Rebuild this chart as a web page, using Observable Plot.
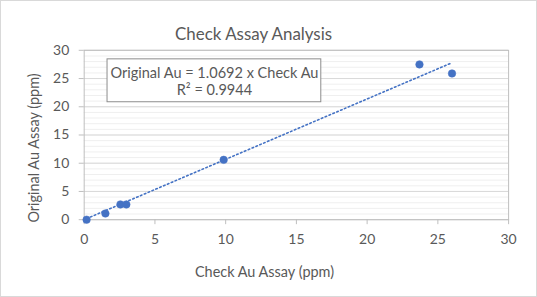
<!DOCTYPE html>
<html><head><meta charset="utf-8">
<script src="https://cdn.jsdelivr.net/npm/d3@7"></script>
<script src="https://cdn.jsdelivr.net/npm/@observablehq/plot@0.6"></script>
<style>
body{margin:0;background:#fff;}
#chart{width:537px;height:297px;box-sizing:border-box;border:1px solid #d9d9d9;position:relative;}
svg{position:absolute;left:-1px;top:-1px;}
</style>
</head><body><div id="chart"></div>
<script>
const checkAu    = [0.17, 1.5, 2.56, 2.98, 9.86, 23.7, 26.0];
const originalAu = [0.0, 1.1, 2.7, 2.7, 10.6, 27.5, 25.9];
const slope = 1.0692;
const rSquared = 0.9944;
const xTicks = [0, 5, 10, 15, 20, 25, 30];
const yTicks = [0, 5, 10, 15, 20, 25, 30];
const minorY = d3.range(0, 31, 1);
const title = "Check Assay Analysis";
const xLabel = "Check Au Assay (ppm)";
const yLabel = "Original Au Assay (ppm)";
const eqLines = [`Original Au = ${slope} x Check Au`, `R² = ${rSquared}`];
const eqBox = {x1: 1.65, x2: 16.76, y1: 20.8, y2: 28.4};

const points = checkAu.map((x, i) => ({x, y: originalAu[i]}));
const xmin = d3.min(checkAu), xmax = d3.max(checkAu);
const trend = [{x: xmin, y: slope * xmin}, {x: xmax, y: slope * xmax}];
const blue = "#4472c4";
const font = "Lato, 'Noto Sans', sans-serif";

const plot = Plot.plot({
  width: 537, height: 297,
  marginLeft: 84, marginRight: 27, marginTop: 50, marginBottom: 77,
  style: {fontFamily: font, fontSize: "14px", color: "#595959", background: "transparent"},
  x: {domain: [0, 30], ticks: xTicks, label: null},
  y: {domain: [0, 30], ticks: yTicks, label: null},
  marks: [
    Plot.ruleY(minorY, {stroke: "#efefef", strokeWidth: 1}),
    Plot.ruleY(yTicks, {stroke: "#d9d9d9", strokeWidth: 1}),
    Plot.frame({stroke: "#bfbfbf"}),
    Plot.axisX({ticks: xTicks, tickSize: 5, tickPadding: 9, stroke: "#bfbfbf", fill: "#595959", fontSize: 14, label: null}),
    Plot.axisY({ticks: yTicks, tickSize: 5, tickPadding: 10, stroke: "#bfbfbf", fill: "#595959", fontSize: 14, label: null}),
    Plot.line(trend, {x: "x", y: "y", stroke: blue, strokeWidth: 1.6, strokeDasharray: "1.6 2.6", strokeLinecap: "round"}),
    Plot.dot(points, {x: "x", y: "y", r: 3.8, fill: blue, stroke: blue, strokeWidth: 0.5}),
    Plot.rect([eqBox], {x1: "x1", x2: "x2", y1: "y1", y2: "y2", fill: "white", stroke: "#8c8c8c", strokeWidth: 1}),
    Plot.text([eqLines.join("\n")], {x: (eqBox.x1 + eqBox.x2) / 2, y: (eqBox.y1 + eqBox.y2) / 2, fontSize: 14.6, fill: "#595959", lineHeight: 1.22, textAnchor: "middle"}),
    Plot.text([title], {frameAnchor: "top", dx: -43, dy: -22, fontSize: 17, fill: "#595959"}),
    Plot.text([xLabel], {frameAnchor: "bottom", dx: -32, dy: 58, fontSize: 14.5, fill: "#595959"}),
    Plot.text([yLabel], {frameAnchor: "left", textAnchor: "middle", dx: -49.5, dy: 13, rotate: -90, fontSize: 14.5, fill: "#595959"})
  ]
});
document.getElementById("chart").appendChild(plot);
</script>
</body></html>
